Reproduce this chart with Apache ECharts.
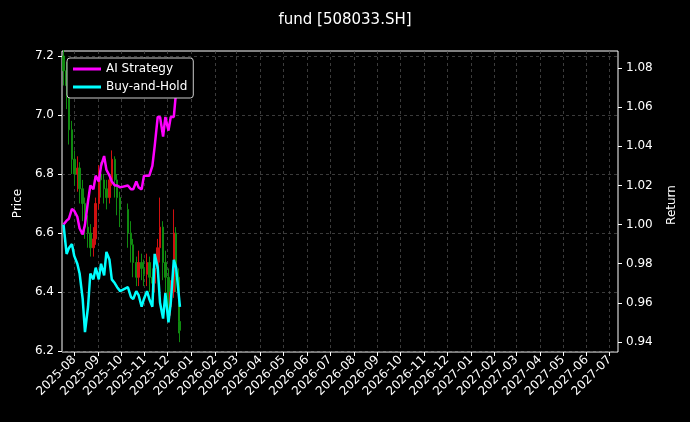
<!DOCTYPE html>
<html><head><meta charset="utf-8">
<script src="https://cdn.jsdelivr.net/npm/echarts@6/dist/echarts.min.js"></script>
<style>html,body{margin:0;padding:0;background:#000}#c{width:690px;height:422px}</style>
</head><body><div id="c"></div>
<script>
const dates=['2025-07-18','2025-07-22','2025-07-25','2025-07-29','2025-08-01','2025-08-05','2025-08-08','2025-08-12','2025-08-15','2025-08-19','2025-08-22','2025-08-26','2025-08-29','2025-09-02','2025-09-05','2025-09-09','2025-09-12','2025-09-16','2025-09-19','2025-09-23','2025-09-26','2025-09-30','2025-10-10','2025-10-14','2025-10-17','2025-10-21','2025-10-24','2025-10-28','2025-10-31','2025-11-04','2025-11-07','2025-11-11','2025-11-14','2025-11-18','2025-11-21','2025-11-25','2025-11-28','2025-12-02','2025-12-05','2025-12-09','2025-12-12','2025-12-16','2025-12-17'];
const opens =[7.20,7.15,7.10,6.95,6.85,6.80,6.82,6.75,6.70,6.62,6.60,6.55,6.58,6.70,6.80,6.78,6.75,6.72,6.78,6.85,6.78,6.72,6.68,6.60,6.56,6.50,6.45,6.50,6.48,6.46,6.50,6.45,6.43,6.48,6.55,6.62,6.50,6.45,6.35,6.40,6.60,6.45,6.30];
const closes=[7.15,7.10,6.95,6.85,6.80,6.82,6.75,6.70,6.62,6.60,6.55,6.58,6.70,6.80,6.78,6.75,6.72,6.78,6.85,6.78,6.72,6.68,6.60,6.56,6.50,6.45,6.50,6.48,6.46,6.50,6.45,6.43,6.48,6.55,6.62,6.50,6.45,6.35,6.40,6.60,6.45,6.30,6.27];
const lows  =[7.10,7.02,6.90,6.80,6.76,6.74,6.70,6.64,6.58,6.55,6.52,6.52,6.56,6.68,6.72,6.70,6.68,6.70,6.76,6.72,6.66,6.62,6.55,6.50,6.45,6.42,6.42,6.44,6.42,6.42,6.40,6.38,6.40,6.45,6.50,6.44,6.38,6.30,6.32,6.38,6.40,6.26,6.23];
const highs =[7.22,7.18,7.12,6.98,6.88,6.86,6.84,6.78,6.72,6.66,6.63,6.62,6.72,6.83,6.84,6.80,6.78,6.80,6.88,6.86,6.80,6.74,6.70,6.64,6.58,6.52,6.54,6.53,6.51,6.53,6.52,6.48,6.50,6.58,6.72,6.64,6.54,6.48,6.44,6.68,6.62,6.48,6.32];
const aiStrategy=[1.000,1.002,1.003,1.008,1.007,1.004,0.998,0.995,1.000,1.012,1.020,1.018,1.025,1.022,1.030,1.035,1.028,1.025,1.022,1.020,1.020,1.019,1.020,1.018,1.018,1.022,1.019,1.018,1.025,1.025,1.025,1.030,1.040,1.055,1.055,1.045,1.055,1.048,1.055,1.055,1.068,1.075,1.080];
const buyHold=[1.000,0.985,0.988,0.990,0.984,0.980,0.975,0.962,0.945,0.958,0.975,0.972,0.978,0.972,0.980,0.974,0.986,0.982,0.972,0.970,0.968,0.966,0.968,0.963,0.962,0.966,0.964,0.958,0.962,0.966,0.962,0.958,0.985,0.978,0.960,0.952,0.965,0.950,0.960,0.982,0.978,0.962,0.958];

const days=[];
{let d=new Date(Date.UTC(2025,6,16));const end=Date.UTC(2027,6,12);
 while(d.getTime()<=end){days.push(d.toISOString().slice(0,10));d=new Date(d.getTime()+86400000);}}
const isMonth=(i)=>days[i].slice(8)==='01';
const tc='#fff';
const candle=dates.map((d,i)=>[d,opens[i],closes[i],lows[i],highs[i]]);
const chart=echarts.init(document.getElementById('c'));
chart.setOption({
 backgroundColor:'#000',animation:false,
 title:{text:'fund [508033.SH]',left:'center',top:8,textStyle:{color:tc,fontSize:15,fontWeight:'normal',fontFamily:'DejaVu Sans'}},
 legend:{data:['AI Strategy','Buy-and-Hold'],orient:'vertical',left:67,top:58,itemGap:6,itemWidth:28,itemHeight:3,
   backgroundColor:'#000',borderColor:'#ccc',borderWidth:1,borderRadius:3,padding:[5,6],
   textStyle:{color:tc,fontSize:12,fontFamily:'DejaVu Sans'},icon:'rect'},
 grid:[{left:62,right:72,top:51,bottom:70,show:true,borderColor:'#fff',borderWidth:1,backgroundColor:'#000'},
       {left:62,right:72,top:56,bottom:71},{left:62,right:72,top:68,bottom:80}],
 xAxis:[
  {type:'category',gridIndex:0,data:days,boundaryGap:false,axisLine:{show:false},
   axisTick:{interval:(i)=>isMonth(i),length:4,lineStyle:{color:tc}},
   axisLabel:{interval:(i)=>isMonth(i),rotate:45,color:tc,fontSize:12,fontFamily:'DejaVu Sans',formatter:v=>v.slice(0,7),margin:6},
   splitLine:{show:true,interval:(i)=>isMonth(i),lineStyle:{color:'#555',type:[3,3],width:0.7}}},
  {type:'category',gridIndex:1,data:days,boundaryGap:false,show:false},
  {type:'category',gridIndex:2,data:days,boundaryGap:false,show:false}],
 yAxis:[
  {type:'value',gridIndex:0,min:0,max:1,show:false},
  {type:'value',gridIndex:1,min:6.2,max:7.2,interval:0.2,name:'Price',nameLocation:'middle',nameGap:36,
   nameTextStyle:{color:tc,fontSize:12,fontFamily:'DejaVu Sans'},axisLine:{show:false},
   axisTick:{show:true,length:4,lineStyle:{color:tc}},axisLabel:{color:tc,fontSize:12,fontFamily:'DejaVu Sans',formatter:v=>v.toFixed(1)},
   splitLine:{lineStyle:{color:'#555',type:[3,3],width:0.7}}},
  {type:'value',gridIndex:2,position:'right',min:0.94,max:1.08,interval:0.02,name:'Return',nameLocation:'middle',nameGap:48,nameRotate:90,
   nameTextStyle:{color:tc,fontSize:12,fontFamily:'DejaVu Sans'},axisLine:{show:false},
   axisTick:{show:true,length:4,lineStyle:{color:tc}},axisLabel:{color:tc,fontSize:12,fontFamily:'DejaVu Sans',formatter:v=>v.toFixed(2)},
   splitLine:{show:false}}],
 series:[
  {type:'candlestick',xAxisIndex:1,yAxisIndex:1,data:candle,encode:{x:0,y:[1,2,3,4]},barWidth:2,
   itemStyle:{color:'#d01010',color0:'#108a10',borderColor:'#d01010',borderColor0:'#108a10',borderWidth:1}},
  {name:'AI Strategy',type:'line',xAxisIndex:2,yAxisIndex:2,data:dates.map((d,i)=>[d,aiStrategy[i]]),showSymbol:false,
   lineStyle:{color:'#ff00ff',width:2.5},itemStyle:{color:'#ff00ff'}},
  {name:'Buy-and-Hold',type:'line',xAxisIndex:2,yAxisIndex:2,data:dates.map((d,i)=>[d,buyHold[i]]),showSymbol:false,
   lineStyle:{color:'#00ffff',width:2.5},itemStyle:{color:'#00ffff'}}]
});
</script></body></html>
